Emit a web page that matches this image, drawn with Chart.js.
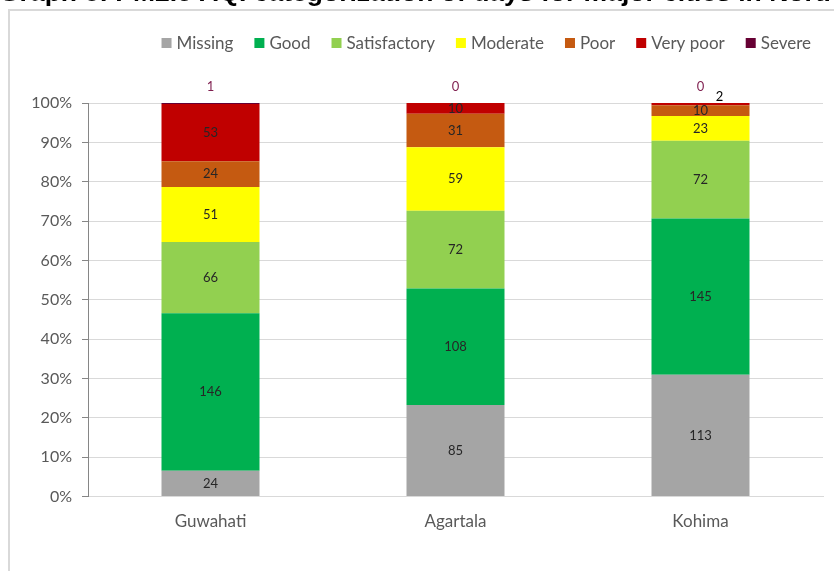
<!DOCTYPE html>
<html>
<head>
<meta charset="utf-8">
<script src="https://cdn.jsdelivr.net/npm/chart.js@4.4.1/dist/chart.umd.min.js"></script>
<style>
  html, body { margin: 0; padding: 0; background: #ffffff; }
  #wrap { width: 834px; height: 571px; position: relative; }
</style>
</head>
<body>
<div id="wrap"><canvas id="c" width="834" height="571"></canvas></div>
<script>
// Number of days per AQI category (PM2.5) for each city
const cities = ['Guwahati', 'Agartala', 'Kohima'];
const categories = ['Missing', 'Good', 'Satisfactory', 'Moderate', 'Poor', 'Very poor', 'Severe'];
const missing      = [24, 85, 113];
const good         = [146, 108, 145];
const satisfactory = [66, 72, 72];
const moderate     = [51, 59, 23];
const poor         = [24, 31, 10];
const veryPoor     = [53, 10, 2];
const severe       = [1, 0, 0];
const yTicks = ['0%', '10%', '20%', '30%', '40%', '50%', '60%', '70%', '80%', '90%', '100%'];
const titleText = 'Graph 8: PM2.5 AQI categorization of days for major cities in North East';

const colors = ['#a5a5a5', '#00b050', '#92d050', '#ffff00', '#c55a11', '#c00000', '#660033'];
const counts = [missing, good, satisfactory, moderate, poor, veryPoor, severe];
const totals = cities.map((_, i) => counts.reduce((s, arr) => s + arr[i], 0));

const datasets = categories.map((name, k) => ({
  label: name,
  data: counts[k].map((v, i) => v / totals[i] * 100),
  raw: counts[k],
  backgroundColor: colors[k],
  borderWidth: 0,
  barPercentage: 0.8,
  categoryPercentage: 0.5
}));

const FONT = 'Lato, "Open Sans", sans-serif';

// Frame, clipped title and custom legend
const framePlugin = {
  id: 'frame',
  beforeDraw(chart) {
    const ctx = chart.ctx;
    ctx.save();
    ctx.fillStyle = '#ffffff';
    ctx.fillRect(0, 0, chart.width, chart.height);
    ctx.strokeStyle = '#d9d9d9';
    ctx.lineWidth = 2;
    ctx.beginPath();
    ctx.moveTo(9, chart.height);
    ctx.lineTo(9, 10);
    ctx.lineTo(chart.width, 10);
    ctx.stroke();
    ctx.fillStyle = '#000000';
    ctx.font = 'bold 26.5px "Liberation Sans", Arial, sans-serif';
    ctx.textBaseline = 'alphabetic';
    ctx.textAlign = 'left';
    ctx.fillText(titleText, -1, 1);
    ctx.restore();
  },
  afterDraw(chart) {
    const ctx = chart.ctx;
    ctx.save();
    ctx.font = '17px ' + FONT;
    ctx.textBaseline = 'middle';
    ctx.textAlign = 'left';
    const y = 43;
    const gap = 21;
    const box = 10;
    const widths = categories.map(c => box + 5 + ctx.measureText(c).width);
    const total = widths.reduce((a, b) => a + b, 0) + gap * (categories.length - 1);
    let x = 811 - total;
    categories.forEach((c, k) => {
      ctx.fillStyle = colors[k];
      ctx.fillRect(x, y - box / 2, box, box);
      ctx.fillStyle = '#595959';
      ctx.fillText(c, x + box + 5, y + 1);
      x += widths[k] + gap;
    });
    ctx.restore();
  }
};

// Value labels on each segment; severe counts sit above the bars
const labelPlugin = {
  id: 'segLabels',
  afterDatasetsDraw(chart) {
    const ctx = chart.ctx;
    ctx.save();
    ctx.font = '13px ' + FONT;
    ctx.textAlign = 'center';
    ctx.textBaseline = 'middle';
    chart.data.datasets.forEach((ds, k) => {
      const meta = chart.getDatasetMeta(k);
      meta.data.forEach((bar, i) => {
        const v = ds.raw[i];
        let x = bar.x, y = (bar.y + bar.base) / 2;
        if (k === 6) {
          ctx.fillStyle = '#7f1f4f';
          y = chart.chartArea.top - 16;
        } else {
          ctx.fillStyle = '#262626';
          if (v <= 3) { x = bar.x + 19; y = bar.y - 6; ctx.fillStyle = '#000000'; }
        }
        ctx.fillText(String(v), x, y);
      });
    });
    ctx.restore();
  }
};

new Chart(document.getElementById('c'), {
  type: 'bar',
  data: { labels: cities, datasets },
  options: {
    responsive: false,
    animation: false,
    layout: { padding: { left: 0, right: 11, top: 103, bottom: 24 } },
    plugins: { legend: { display: false }, title: { display: false }, tooltip: { enabled: false } },
    scales: {
      x: {
        stacked: true,
        grid: { display: false, drawTicks: false },
        border: { color: '#d9d9d9', width: 1 },
        ticks: { color: '#595959', font: { family: FONT, size: 17 }, padding: 15 }
      },
      y: {
        stacked: true,
        min: 0,
        max: 100,
        afterFit(scale) { scale.width = 88; },
        grid: { color: '#d9d9d9', tickColor: '#868686', tickLength: 6, lineWidth: 1 },
        border: { color: '#868686', width: 1 },
        ticks: {
          stepSize: 10,
          color: '#595959',
          font: { family: FONT, size: 16 },
          padding: 10,
          callback: (v, idx) => yTicks[idx]
        }
      }
    }
  },
  plugins: [framePlugin, labelPlugin]
});
</script>
</body>
</html>
